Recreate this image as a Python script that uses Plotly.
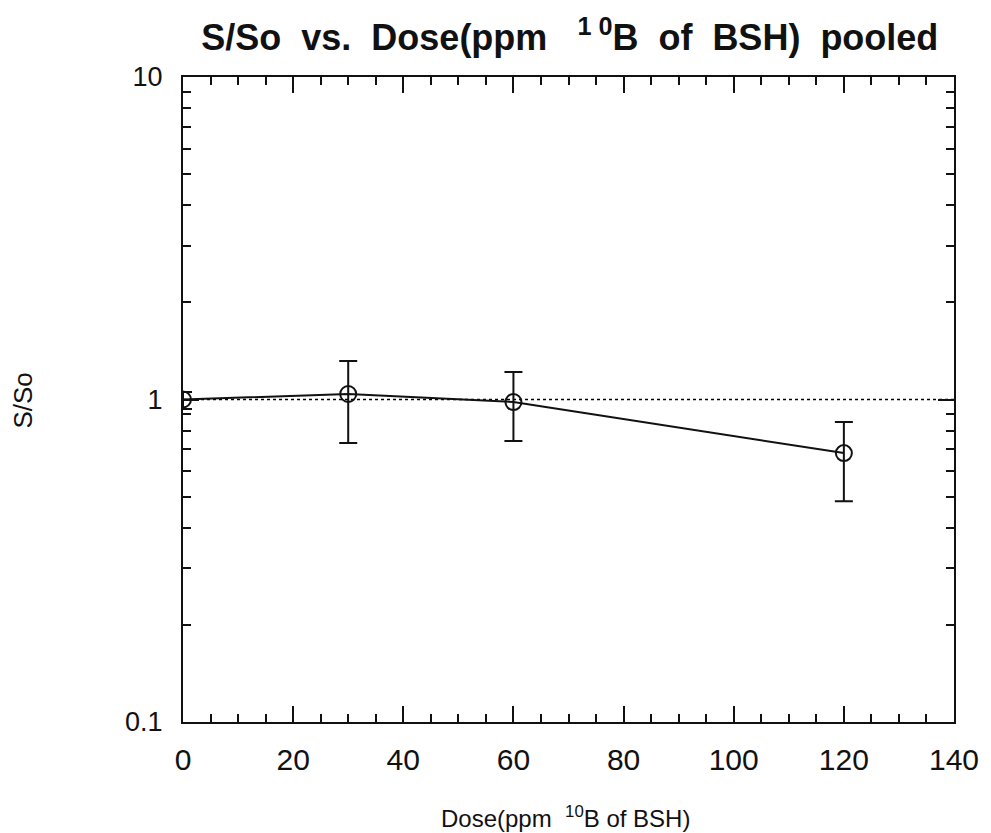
import plotly.graph_objects as go

dose = [0, 30, 60, 120]
s_so = [1.0, 1.04, 0.982, 0.682]
err_hi = [1.055, 1.316, 1.217, 0.852]
err_lo = [0.935, 0.733, 0.743, 0.484]
ref_x = [0, 140]
ref_y = [1, 1]

plus = [h - v for h, v in zip(err_hi, s_so)]
minus = [v - l for v, l in zip(s_so, err_lo)]

fig = go.Figure()
fig.add_trace(go.Scatter(x=ref_x, y=ref_y, mode="lines",
                         line=dict(color="black", width=1.5, dash="dot"),
                         showlegend=False, hoverinfo="skip"))
fig.add_trace(go.Scatter(
    x=dose, y=s_so, mode="lines+markers",
    line=dict(color="#111", width=2),
    marker=dict(symbol="circle-open", size=16, color="#111", line=dict(width=2, color="#111")),
    error_y=dict(type="data", symmetric=False, array=plus, arrayminus=minus,
                 color="#111", thickness=2, width=9),
    showlegend=False))

font_main = "Liberation Sans, Arial, Helvetica, sans-serif"
font_narrow = "Liberation Sans Narrow, Arial Narrow, " + font_main
fig.update_layout(
    width=991, height=833,
    margin=dict(l=183, r=31, t=77, b=111),
    paper_bgcolor="white", plot_bgcolor="white",
    title=dict(text="<b>S/So  vs.  Dose(ppm   <sup>1 0</sup>B  of  BSH)  pooled</b>",
               x=0.575, xanchor="center", y=0.955, yanchor="middle",
               font=dict(family=font_main, size=36, color="#111")),
    font=dict(family=font_main, color="#111"),
    xaxis=dict(range=[0, 140], tickvals=[0, 20, 40, 60, 80, 100, 120, 140],
               ticks="inside", ticklen=16, tickwidth=1.5, tickcolor="#111",
               showline=True, linecolor="#111", linewidth=2, mirror="allticks",
               showgrid=False, zeroline=False,
               tickfont=dict(size=30, family=font_main), ticklabelstandoff=10,
               minor=dict(dtick=5, ticks="inside", ticklen=8, tickwidth=1.5,
                          tickcolor="#111", showgrid=False)),
    yaxis=dict(type="log", range=[-1, 1], tickvals=[0.1, 1, 10], ticktext=["0.1", "1", "10"],
               ticks="inside", ticklen=16, tickwidth=1.5, tickcolor="#111",
               showline=True, linecolor="#111", linewidth=2, mirror="allticks",
               showgrid=False, zeroline=False,
               tickfont=dict(size=27, family=font_main), ticklabelstandoff=13,
               minor=dict(dtick="D1", ticks="inside", ticklen=8, tickwidth=1.5,
                          tickcolor="#111", showgrid=False)),
    annotations=[
        dict(text="Dose(ppm  <sup>10</sup>B of BSH)", xref="paper", yref="paper",
             x=0.496, y=-0.147, xanchor="center", yanchor="middle", showarrow=False,
             font=dict(family=font_narrow, size=24, color="#111")),
        dict(text="S/So", xref="paper", yref="paper", x=-0.207, y=0.499,
             xanchor="center", yanchor="middle", showarrow=False, textangle=-90,
             font=dict(family=font_narrow, size=26, color="#111")),
    ],
)
fig.write_html("out.html")
